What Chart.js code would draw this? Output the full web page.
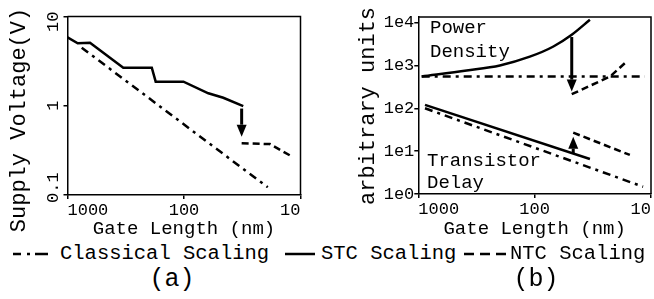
<!DOCTYPE html>
<html>
<head>
<meta charset="utf-8">
<script src="https://cdn.jsdelivr.net/npm/chart.js@4.4.1/dist/chart.umd.min.js"></script>
<style>
  body { margin: 0; background: #fff; }
  #wrap { position: relative; width: 654px; height: 299px; overflow: hidden;
          font-family: "Liberation Mono", "Courier New", monospace; color: #000; }
  canvas { position: absolute; top: 0; }
  .t { position: absolute; white-space: nowrap; line-height: 24px; }
  .ytitle { position: absolute; white-space: nowrap; font-size: 22px; line-height: 26px;
            transform: translate(-50%, -50%) rotate(-90deg); }
  svg { position: absolute; }
</style>
</head>
<body>
<div id="wrap">
  <canvas id="chartA" width="327" height="240" style="left:0"></canvas>
  <canvas id="chartB" width="327" height="240" style="left:327px"></canvas>

  <div class="ytitle" style="left:20px;top:120px">Supply Voltage(V)</div>
  <div class="ytitle" style="left:369px;top:106px">arbitrary units</div>

  <div class="t" style="left:430px;top:16px;font-size:19px">Power</div>
  <div class="t" style="left:430px;top:40px;font-size:19px">Density</div>
  <div class="t" style="left:427px;top:149px;font-size:19px">Transistor</div>
  <div class="t" style="left:427px;top:171px;font-size:19px">Delay</div>

  <svg style="left:13px;top:249px" width="40" height="10"><line x1="0" y1="5" x2="37" y2="5" stroke="#000" stroke-width="2.5" stroke-dasharray="8 6 3 5 13 50"/></svg>
  <div class="t" style="left:60px;top:242px;font-size:20.5px">Classical Scaling</div>
  <svg style="left:285px;top:249px" width="32" height="10"><line x1="0" y1="5" x2="30" y2="5" stroke="#000" stroke-width="2.5"/></svg>
  <div class="t" style="left:321px;top:242px;font-size:20.5px">STC Scaling</div>
  <svg style="left:464px;top:249px" width="44" height="10"><line x1="0" y1="5" x2="42" y2="5" stroke="#000" stroke-width="2.5" stroke-dasharray="10 6"/></svg>
  <div class="t" style="left:510px;top:242px;font-size:20.5px">NTC Scaling</div>

  <div class="t" style="left:172px;top:266px;font-size:25px;line-height:28px;transform:translateX(-50%)">(a)</div>
  <div class="t" style="left:536px;top:266px;font-size:25px;line-height:28px;transform:translateX(-50%)">(b)</div>
</div>

<script>
// ---- panel (a): supply voltage vs gate length ----
const aTicksX = [10, 100, 1000];
const aTicksY = [0.1, 1, 10];
const aTickLabelsY = ['0.1', '1', '10'];
const aClassicalL = [755, 19.1];
const aClassicalV = [4.47, 0.122];
const aStcL = [1000, 817, 641, 332, 189, 175, 101, 61.8, 46, 31];
const aStcV = [5.85, 5.01, 5.08, 2.67, 2.67, 1.86, 1.86, 1.38, 1.23, 0.99];
const aNtcL = [32, 18.3, 11.8];
const aNtcV = [0.38, 0.372, 0.269];
const aArrowL = [32];
const aArrowFrom = [0.93];
const aArrowTo = [0.45];

// ---- panel (b): power density and delay ----
const bTicksX = [10, 100, 1000];
const bTicksY = [1, 10, 100, 1000, 10000];
const bTickLabelsY = ['1e0', '1e1', '1e2', '1e3', '1e4'];
const powerClassicalL = [935, 11.3];
const powerClassicalV = [550, 550];
const powerStcL = [935, 384, 199, 110, 69, 48, 33.5];
const powerStcV = [550, 760, 1000, 1600, 2766, 5188, 11620];
const powerNtcL = [48, 22.5, 16.4];
const powerNtcV = [213, 550, 1194];
const delayClassicalL = [876, 11.7];
const delayClassicalV = [100, 1.48];
const delayStcL = [876, 33.5];
const delayStcV = [120, 6.57];
const delayNtcL = [46.6, 15.2];
const delayNtcV = [27, 8.15];
const bArrowL = [48, 46.6];
const bArrowFrom = [4600, 8.9];
const bArrowTo = [245, 21.8];

Chart.defaults.font.family = '"Liberation Mono", "Courier New", monospace';
Chart.defaults.color = '#000';

const DASHDOT = [8, 5, 3, 5];
const DASHED = [7, 4];

function pts(xs, ys) {
  return xs.map((x, i) => ({x: x, y: ys[i]}));
}

function line(xs, ys, dash, smooth) {
  return {
    data: pts(xs, ys),
    showLine: true,
    borderColor: '#000',
    borderWidth: 2.5,
    borderDash: dash || [],
    pointRadius: 0,
    cubicInterpolationMode: smooth ? 'monotone' : 'default'
  };
}

// frame on top and right, plus arrows
const framePlugin = {
  id: 'frame',
  afterDatasetsDraw(chart, args, opts) {
    const {ctx, chartArea: a, scales} = chart;
    ctx.save();
    ctx.strokeStyle = '#000';
    ctx.lineWidth = 1.5;
    ctx.beginPath();
    ctx.moveTo(a.left, a.top);
    ctx.lineTo(a.right, a.top);
    ctx.lineTo(a.right, a.bottom);
    ctx.stroke();

    const arr = opts.arrows || {l: [], from: [], to: []};
    arr.l.forEach((l, i) => {
      const x = scales.x.getPixelForValue(l);
      const y1 = scales.y.getPixelForValue(arr.from[i]);
      const y2 = scales.y.getPixelForValue(arr.to[i]);
      const dir = y2 > y1 ? 1 : -1;
      const head = 12;
      ctx.lineWidth = 3;
      ctx.beginPath();
      ctx.moveTo(x, y1);
      ctx.lineTo(x, y2 - dir * head);
      ctx.stroke();
      ctx.fillStyle = '#000';
      ctx.beginPath();
      ctx.moveTo(x, y2);
      ctx.lineTo(x - 5, y2 - dir * head);
      ctx.lineTo(x + 5, y2 - dir * head);
      ctx.closePath();
      ctx.fill();
    });

    // rotated y tick labels (panel a)
    if (opts.rotLabels) {
      const s = scales.y;
      ctx.font = '17px "Liberation Mono", "Courier New", monospace';
      ctx.fillStyle = '#000';
      ctx.textAlign = 'center';
      ctx.textBaseline = 'middle';
      opts.rotLabels.values.forEach((v, i) => {
        const txt = opts.rotLabels.labels[i];
        const w = ctx.measureText(txt).width;
        let y = s.getPixelForValue(v);
        y = Math.max(y, a.top - 5 + w / 2);
        y = Math.min(y, a.bottom + 8 - w / 2);
        ctx.save();
        ctx.translate(a.left - 14, y);
        ctx.rotate(-Math.PI / 2);
        ctx.fillText(txt, 0, 0);
        ctx.restore();
      });
    }
    ctx.restore();
  }
};

function xAxis(ticks, height) {
  return {
    type: 'logarithmic',
    min: 10,
    max: 1000,
    reverse: true,
    afterBuildTicks: s => { s.ticks = ticks.map(v => ({value: v})); },
    afterFit: s => { s.height = height; },
    ticks: {
      align: 'inner',
      padding: 1,
      font: {size: 17},
      callback: v => String(v)
    },
    grid: {drawOnChartArea: false, tickLength: 4, color: '#000', lineWidth: 1.5},
    border: {color: '#000', width: 1.5},
    title: {display: true, text: 'Gate Length (nm)', font: {size: 19}, padding: 0}
  };
}

new Chart(document.getElementById('chartA'), {
  type: 'scatter',
  data: {
    datasets: [
      line(aClassicalL, aClassicalV, DASHDOT),
      line(aStcL, aStcV),
      line(aNtcL, aNtcV, DASHED)
    ]
  },
  options: {
    responsive: false,
    animation: false,
    layout: {padding: {left: 0, right: 26.5, top: 16.5, bottom: 0}},
    plugins: {
      legend: {display: false},
      tooltip: {enabled: false},
      frame: {
        arrows: {l: aArrowL, from: aArrowFrom, to: aArrowTo},
        rotLabels: {values: aTicksY, labels: aTickLabelsY}
      }
    },
    scales: {
      x: xAxis(aTicksX, 45),
      y: {
        type: 'logarithmic',
        min: 0.1,
        max: 10,
        afterBuildTicks: s => { s.ticks = aTicksY.map(v => ({value: v})); },
        afterFit: s => { s.width = 67.5; },
        ticks: {display: false},
        grid: {drawOnChartArea: false, tickLength: 4, color: '#000', lineWidth: 1.5},
        border: {color: '#000', width: 1.5}
      }
    }
  },
  plugins: [framePlugin]
});

new Chart(document.getElementById('chartB'), {
  type: 'scatter',
  data: {
    datasets: [
      line(powerClassicalL, powerClassicalV, DASHDOT),
      line(powerStcL, powerStcV, [], true),
      line(powerNtcL, powerNtcV, DASHED),
      line(delayClassicalL, delayClassicalV, DASHDOT),
      line(delayStcL, delayStcV),
      line(delayNtcL, delayNtcV, DASHED)
    ]
  },
  options: {
    responsive: false,
    animation: false,
    layout: {padding: {left: 0, right: 3, top: 17, bottom: 0}},
    plugins: {
      legend: {display: false},
      tooltip: {enabled: false},
      frame: {arrows: {l: bArrowL, from: bArrowFrom, to: bArrowTo}}
    },
    scales: {
      x: xAxis(bTicksX, 46),
      y: {
        type: 'logarithmic',
        min: 1,
        max: 13500,
        afterBuildTicks: s => { s.ticks = bTicksY.map(v => ({value: v})); },
        afterFit: s => { s.width = 91.3; },
        ticks: {
          padding: 0,
          font: {size: 17},
          callback: (v, i) => bTickLabelsY[i]
        },
        grid: {drawOnChartArea: false, tickLength: 4, color: '#000', lineWidth: 1.5},
        border: {color: '#000', width: 1.5}
      }
    }
  },
  plugins: [framePlugin]
});
</script>
</body>
</html>
